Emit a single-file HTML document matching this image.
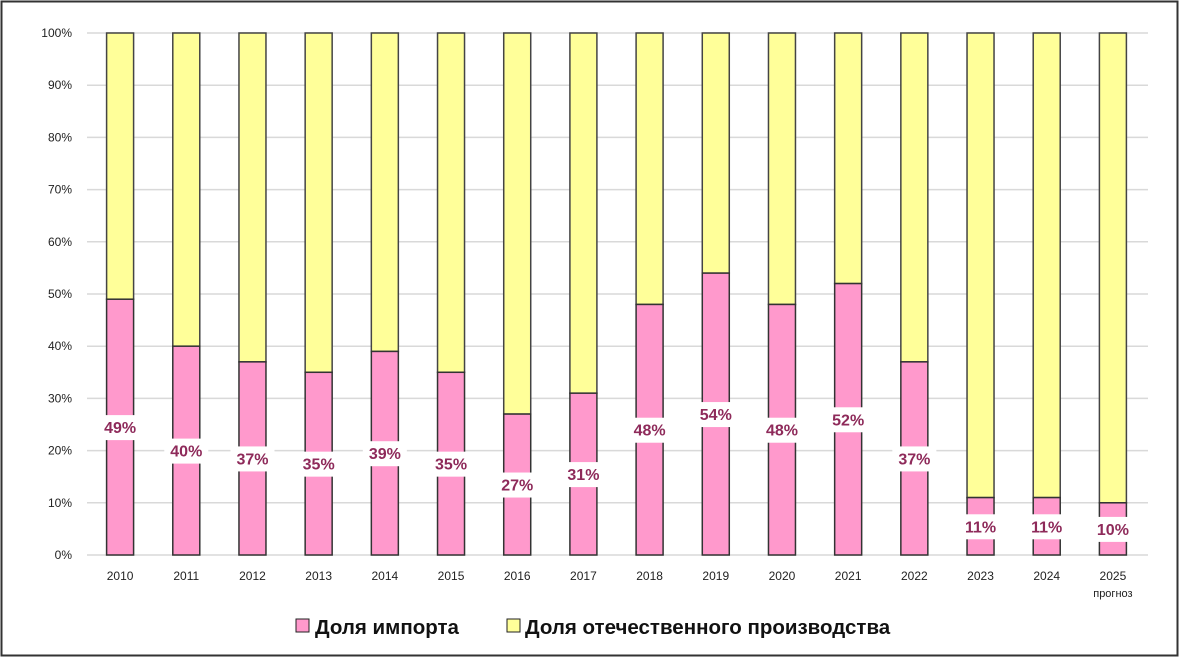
<!DOCTYPE html>
<html><head><meta charset="utf-8">
<style>
html,body{margin:0;padding:0;background:#fff;}
body{width:1180px;height:657px;overflow:hidden;font-family:"Liberation Sans","DejaVu Sans",sans-serif;}
</style></head>
<body>
<svg id="chart" width="1180" height="657" xmlns="http://www.w3.org/2000/svg">
<rect x="1.5" y="1.5" width="1176" height="654" fill="#fff" stroke="#333" stroke-width="2"/>
<g id="grid"></g><g id="bars"></g><g id="labels"></g>
<g font-size="20.5" font-weight="bold" fill="#111">
 <rect x="296" y="619" width="13" height="13" fill="#ff99cc" stroke="#222" stroke-width="1"/>
 <text x="315" y="634">Доля импорта</text>
 <rect x="507" y="619" width="13" height="13" fill="#ffff99" stroke="#222" stroke-width="1"/>
 <text x="525" y="634">Доля отечественного производства</text>
</g>
</svg>
<script>
const categories=["2010","2011","2012","2013","2014","2015","2016","2017","2018","2019","2020","2021","2022","2023","2024","2025"];
const importShare=[49,40,37,35,39,35,27,31,48,54,48,52,37,11,11,10];
const yTicks=[0,10,20,30,40,50,60,70,80,90,100];
const NS="http://www.w3.org/2000/svg";
const x0=87,x1=1146,yTop=33,yBot=555;
const step=(x1-x0)/categories.length;
const xc=i=>x0+step*(i+0.5);
const y=v=>yBot-(yBot-yTop)*v/100;
function mk(t,a,p){const e=document.createElementNS(NS,t);for(const k in a)e.setAttribute(k,a[k]);p.appendChild(e);return e;}
const grid=document.getElementById('grid'),bars=document.getElementById('bars'),labels=document.getElementById('labels');
yTicks.forEach(v=>{
 const l=mk('line',{x1:x0,x2:1148,y1:y(v),y2:y(v),stroke:'#d9d9d9','stroke-width':1.5},grid);
 
 
 const t=mk('text',{x:72,y:y(v)+4,'text-anchor':'end','font-size':12,fill:'#222'},grid);
 t.textContent=v+'%';
 
 
});
const bw=27;
categories.forEach((c,i)=>{
 const cx=xc(i),v=importShare[i];
 const yb=mk('rect',{x:cx-bw/2,y:y(100),width:bw,height:y(v)-y(100),fill:'#ffff99',stroke:'#444','stroke-width':1.5},bars);
 
 
 const pb=mk('rect',{x:cx-bw/2,y:y(v),width:bw,height:y(0)-y(v),fill:'#ff99cc',stroke:'#333','stroke-width':1.5},bars);
 
 
 const ly=(y(v)+y(0))/2;
 const bg=mk('rect',{x:cx-22,y:ly-12,width:44,height:25,fill:'#fff'},labels);
 
 
 const t=mk('text',{x:cx,y:ly+6,'text-anchor':'middle','font-size':16,'font-weight':'bold',fill:'#8e2a5a'},labels);
 t.textContent=v+'%';
 
 
 const xt=mk('text',{x:cx,y:580,'text-anchor':'middle','font-size':12,fill:'#222'},labels);
 xt.textContent=c;
 
 
});
const f=mk('text',{x:xc(15),y:597,'text-anchor':'middle','font-size':11,fill:'#222'},labels);
f.textContent='прогноз';


</script>
</body></html>
